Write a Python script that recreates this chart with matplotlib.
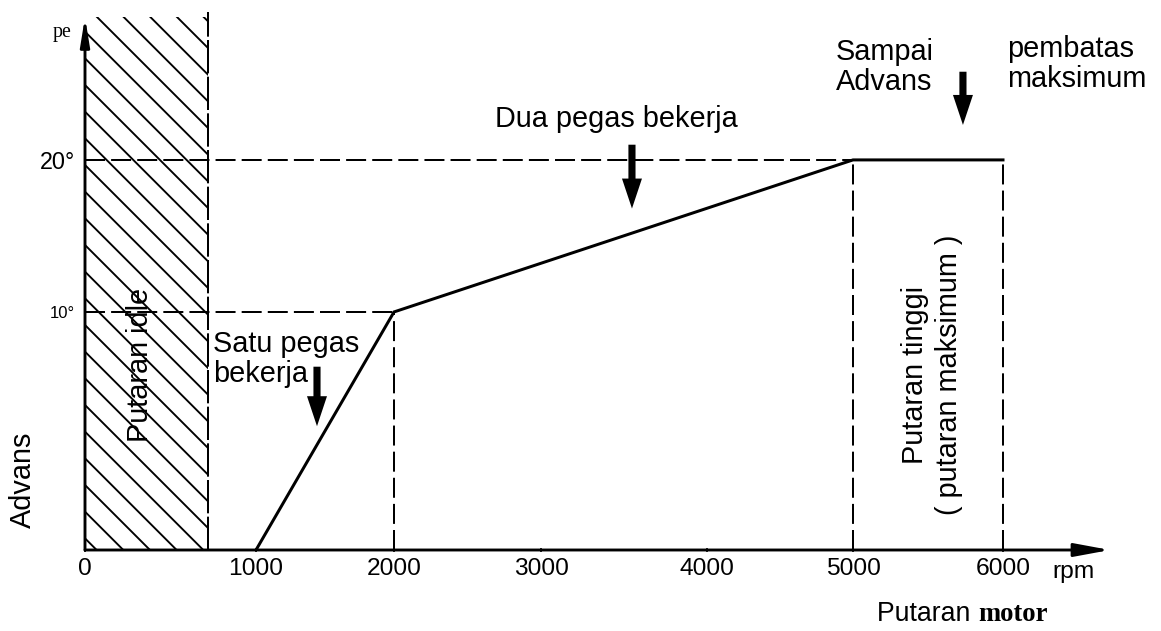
import numpy as np
import matplotlib
matplotlib.use("Agg")
import matplotlib.pyplot as plt

# centrifugal advance curve: engine speed (rpm) vs ignition advance (degrees)
rpm = [1000, 2000, 5000, 6000]
advance = [0, 10, 20, 20]

x_ticks = [0, 1000, 2000, 3000, 4000, 5000, 6000]
x_tick_labels = ["0", "1000", "2000", "3000", "4000", "5000", "6000"]
y_ticks = [10, 20]
y_tick_labels = ["10°", "20°"]
idle_rpm = 720          # upper end of the idle band

# the printed axes are not evenly spaced, so data is mapped onto the drawn spacing
x_knots = [0, 1000, 2000, 3000, 4000, 5000, 6000, 6700]
x_drawn = [0, 171, 309, 456, 622, 768, 918, 1025]
y_knots = [0, 10, 20, 30]
y_drawn = [0, 238, 390, 542]

plt.rcParams["font.family"] = ["Liberation Sans", "DejaVu Sans"]
plt.rcParams["hatch.linewidth"] = 1.7
plt.rcParams["lines.scale_dashes"] = False

DPI = 80
fig = plt.figure(figsize=(1161 / DPI, 631 / DPI), dpi=DPI)
ax = fig.add_axes([85 / 1161, 81 / 631, 1025 / 1161, 533 / 631])

ax.set_xscale("function", functions=(lambda v: np.interp(v, x_knots, x_drawn),
                                     lambda v: np.interp(v, x_drawn, x_knots)))
ax.set_yscale("function", functions=(lambda v: np.interp(v, y_knots, y_drawn),
                                     lambda v: np.interp(v, y_drawn, y_knots)))
ax.set_xlim(0, 6700)
ax.set_ylim(0, 29.4)
for s in ax.spines.values():
    s.set_visible(False)

# idle band
ax.axvspan(0, idle_rpm, facecolor="none", edgecolor="black", hatch="\\", linewidth=0)
ax.plot([idle_rpm, idle_rpm], [0, 29.7], color="black", lw=1.8,
        dashes=(30, 3), clip_on=False)

# guide lines
dash = (18, 5.5)
ax.plot([0, rpm[1]], [advance[1], advance[1]], color="black", lw=1.8, dashes=dash)
ax.plot([0, rpm[2]], [advance[2], advance[2]], color="black", lw=1.8, dashes=dash)
for r, a in zip(rpm[1:], advance[1:]):
    ax.plot([r, r], [0, a], color="black", lw=1.8, dashes=dash)

# advance curve
ax.plot(rpm, advance, color="black", lw=2.7, solid_joinstyle="miter")

# axes with arrow heads
ax.annotate("", xy=(1, 0), xytext=(0, 0), xycoords="axes fraction",
            arrowprops=dict(arrowstyle="-|>,head_length=1.35,head_width=0.25",
                            lw=2.6, color="black", shrinkA=0, shrinkB=0,
                            mutation_scale=20))
ax.annotate("", xy=(0, 1), xytext=(0, 0), xycoords="axes fraction",
            arrowprops=dict(arrowstyle="-|>,head_length=1.05,head_width=0.17",
                            lw=2.6, color="black", shrinkA=0, shrinkB=0,
                            mutation_scale=20))

ax.set_xticks(x_ticks)
ax.set_xticklabels(x_tick_labels)
ax.tick_params(axis="x", length=4, width=1.5, direction="inout", pad=5)
for lbl in ax.get_xticklabels():
    lbl.set_family(["Liberation Sans Narrow", "Liberation Sans"])
    lbl.set_fontsize(22)

ax.set_yticks(y_ticks)
ax.set_yticklabels(y_tick_labels)
ax.tick_params(axis="y", length=0, pad=9)
for lbl, size in zip(ax.get_yticklabels(), [15, 21]):
    lbl.set_family(["Liberation Sans Narrow", "Liberation Sans"])
    lbl.set_fontsize(size)

ax.text(6458, -0.041, "rpm", transform=ax.get_xaxis_transform(),
        ha="center", va="center", fontsize=22,
        family=["Liberation Sans Narrow", "Liberation Sans"])
ax.text(-0.022, 0.970, "pe", transform=ax.transAxes, ha="center", va="center",
        fontsize=18, family=["Liberation Serif"])

ax.set_ylabel("Advans", fontsize=26)
ax.yaxis.set_label_coords(-0.047, 0.131)

# axis title under the x axis
fig.text(978 / 1161, 1 - 621 / 631, "Putaran ", ha="right", va="baseline", fontsize=24)
fig.text(978 / 1161, 1 - 621 / 631, "motor", ha="left", va="baseline", fontsize=24,
         family=["Liberation Serif"], weight="bold")

# region and spring labels
ax.text(322, 7.77, "Putaran idle", rotation=90, ha="center", va="center", fontsize=26)
ax.text(5527, 7.35, "Putaran tinggi\n( putaran maksimum )", rotation=90,
        ha="center", va="center", multialignment="center", linespacing=1.3, fontsize=26)
ax.text(749, 9.25, "Satu pegas\nbekerja", ha="left", va="top", fontsize=26, linespacing=1.1)
ax.text(2687, 22.17, "Dua pegas bekerja", ha="left", va="baseline", fontsize=26)
ax.text(4884, 28.0, "Sampai\nAdvans", ha="left", va="top", fontsize=26, linespacing=1.1)
ax.text(6026, 28.2, "pembatas\nmaksimum", ha="left", va="top", fontsize=26,
        linespacing=1.1, clip_on=False)

# pointer arrows
arrow_style = "simple,head_length=1.35,head_width=0.9,tail_width=0.32"
for x, y_top, y_tip in [(1442, 7.7, 5.2), (3548, 21.0, 16.8), (5733, 25.8, 22.3)]:
    ax.annotate("", xy=(x, y_tip), xytext=(x, y_top),
                arrowprops=dict(arrowstyle=arrow_style, color="black", lw=0,
                                mutation_scale=20, shrinkA=0, shrinkB=0))

fig.savefig("out.png", dpi=DPI, facecolor="white")
